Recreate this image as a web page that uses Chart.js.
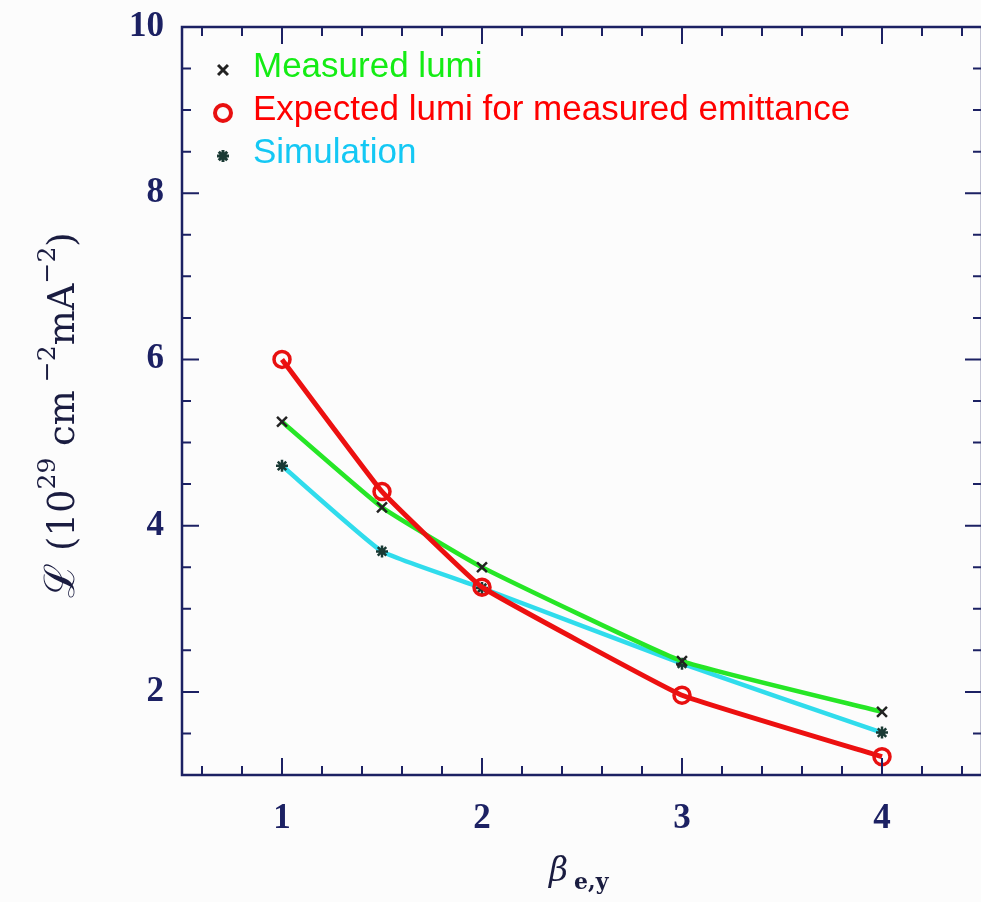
<!DOCTYPE html>
<html>
<head>
<meta charset="utf-8">
<script src="https://cdn.jsdelivr.net/npm/chart.js@4.4.0/dist/chart.umd.min.js"></script>
<style>
  html, body { margin: 0; padding: 0; background: #fcfcfc; overflow: hidden; }
  #chart { display: block; }
</style>
</head>
<body>
<canvas id="chart" width="984" height="902"></canvas>
<script>
// beta_e,y settings and luminosity per mA^2 (1e29 cm^-2 mA^-2)
const betaValues = [1, 1.5, 2, 3, 4];
const measuredLumi = [5.25, 4.22, 3.5, 2.37, 1.76];
const expectedLumi = [6.0, 4.41, 3.26, 1.96, 1.22];
const simulationLumi = [4.72, 3.69, 3.25, 2.34, 1.51];

const xTickLabels = [1, 2, 3, 4];
const yTickLabels = [2, 4, 6, 8, 10];

const axisColor = "#1c2163";
const tickFont = { family: "'Liberation Serif', serif", size: 35, weight: "bold" };

function toPoints(values) {
  return values.map((v, i) => ({ x: betaValues[i], y: v }));
}

// frame with inward ticks on all four sides
const frameAndTicks = {
  id: "frameAndTicks",
  afterDatasetsDraw(chart) {
    const { ctx, chartArea: a, scales } = chart;
    const x = scales.x, y = scales.y;
    ctx.save();
    ctx.strokeStyle = axisColor;
    ctx.lineWidth = 2.5;
    ctx.strokeRect(a.left, a.top, a.right - a.left, a.bottom - a.top);
    ctx.lineWidth = 2;
    ctx.beginPath();
    for (let i = 3; i <= 22; i++) {
      const px = x.getPixelForValue(i / 5);
      const len = i % 5 === 0 ? 17 : 9;
      ctx.moveTo(px, a.bottom); ctx.lineTo(px, a.bottom - len);
      ctx.moveTo(px, a.top); ctx.lineTo(px, a.top + len);
    }
    for (let i = 3; i <= 19; i++) {
      const py = y.getPixelForValue(i / 2);
      const len = i % 4 === 0 ? 17 : 9;
      ctx.moveTo(a.left, py); ctx.lineTo(a.left + len, py);
      ctx.moveTo(a.right, py); ctx.lineTo(a.right - len, py);
    }
    ctx.stroke();
    ctx.restore();
  }
};

// legend in the upper left corner, marker in black/red, text in series colour
const cornerLegend = {
  id: "cornerLegend",
  afterDraw(chart) {
    const ctx = chart.ctx;
    const baselines = [77, 120, 163];
    ctx.save();
    chart.data.datasets.forEach((ds, row) => {
      const cy = baselines[row] - 7;
      ctx.strokeStyle = ds.pointBorderColor;
      ctx.fillStyle = "rgba(0,0,0,0)";
      ctx.lineWidth = ds.pointBorderWidth + 0.5;
      Chart.helpers.drawPoint(ctx, {
        pointStyle: ds.pointStyle,
        radius: ds.pointRadius,
        borderWidth: ds.pointBorderWidth + 0.5,
        rotation: 0
      }, 223, cy);
      ctx.fillStyle = ds.legendColor;
      ctx.font = "35px 'Liberation Sans', Arial, sans-serif";
      ctx.textBaseline = "alphabetic";
      ctx.textAlign = "left";
      ctx.fillText(ds.label, 253, baselines[row]);
    });
    ctx.restore();
  }
};

// axis titles with super- and subscripts
const axisTitles = {
  id: "axisTitles",
  afterDraw(chart) {
    const ctx = chart.ctx;
    ctx.save();
    ctx.fillStyle = "#1a1c40";
    ctx.textBaseline = "alphabetic";
    ctx.textAlign = "left";

    const scriptFont = "42px 'DejaVu Serif', serif";
    const mainFont = "37px 'DejaVu Serif', serif";
    const supFont = "25px 'DejaVu Serif', serif";
    const parts = [
      ["\u2112", false], [" (10", false], ["29", true], [" cm", false],
      [" \u22122", true], ["mA", false], ["\u22122", true], [")", false]
    ];
    const fontFor = (i, sup) => (i === 0 ? scriptFont : sup ? supFont : mainFont);
    let total = 0;
    const widths = parts.map(([t, sup], i) => {
      ctx.font = fontFor(i, sup);
      const w = ctx.measureText(t).width;
      total += w;
      return w;
    });
    ctx.translate(74, 415);
    ctx.rotate(-Math.PI / 2);
    let cx = -total / 2;
    parts.forEach(([t, sup], i) => {
      ctx.font = fontFor(i, sup);
      ctx.fillText(t, cx, sup ? -19 : 0);
      cx += widths[i];
    });
    ctx.setTransform(1, 0, 0, 1, 0, 0);

    ctx.font = "italic 33px 'DejaVu Serif', serif";
    ctx.fillText("\u03b2", 549, 881);
    ctx.font = "bold 22px 'DejaVu Serif', serif";
    ctx.fillText("e,y", 574, 889);
    ctx.restore();
  }
};

const chartCanvas = document.getElementById("chart").getContext("2d");

const chart = new Chart(chartCanvas, {
  type: "line",
  data: {
    datasets: [
      {
        label: "Measured lumi",
        data: toPoints(measuredLumi),
        borderColor: "#26e626",
        legendColor: "#14ec14",
        borderWidth: 4.5,
        tension: 0.12,
        pointStyle: "crossRot",
        pointRadius: 7,
        pointBorderWidth: 2.5,
        pointBorderColor: "#222222",
        pointBackgroundColor: "rgba(0,0,0,0)",
        order: 1
      },
      {
        label: "Expected lumi for measured emittance",
        data: toPoints(expectedLumi),
        borderColor: "#ec1010",
        legendColor: "#ff0000",
        borderWidth: 5,
        tension: 0.08,
        pointStyle: "circle",
        pointRadius: 8,
        pointBorderWidth: 3.5,
        pointBorderColor: "#e81010",
        pointBackgroundColor: "rgba(0,0,0,0)",
        order: 0
      },
      {
        label: "Simulation",
        data: toPoints(simulationLumi),
        borderColor: "#30dcec",
        legendColor: "#14c8f4",
        borderWidth: 4.5,
        tension: 0.12,
        pointStyle: "star",
        pointRadius: 6,
        pointBorderWidth: 2.5,
        pointBorderColor: "#1a3a34",
        pointBackgroundColor: "rgba(0,0,0,0)",
        order: 2
      }
    ]
  },
  options: {
    responsive: false,
    animation: false,
    layout: { autoPadding: false, padding: { left: 0, top: 27, right: 2, bottom: 0 } },
    plugins: { legend: { display: false }, tooltip: { enabled: false } },
    scales: {
      x: {
        type: "linear",
        min: 0.5,
        max: 4.5,
        grid: { display: false },
        border: { display: false },
        afterBuildTicks: (s) => { s.ticks = xTickLabels.map((v) => ({ value: v })); },
        afterFit: (s) => { s.height = 127; s.paddingLeft = 0; s.paddingRight = 0; },
        ticks: { color: axisColor, font: tickFont, padding: 15, maxRotation: 0 }
      },
      y: {
        min: 1,
        max: 10,
        grid: { display: false },
        border: { display: false },
        afterBuildTicks: (s) => { s.ticks = yTickLabels.map((v) => ({ value: v })); },
        afterFit: (s) => { s.width = 182; s.paddingTop = 0; s.paddingBottom = 0; },
        ticks: { color: axisColor, font: tickFont, padding: 10 }
      }
    }
  },
  plugins: [frameAndTicks, cornerLegend, axisTitles]
});
</script>
</body>
</html>
